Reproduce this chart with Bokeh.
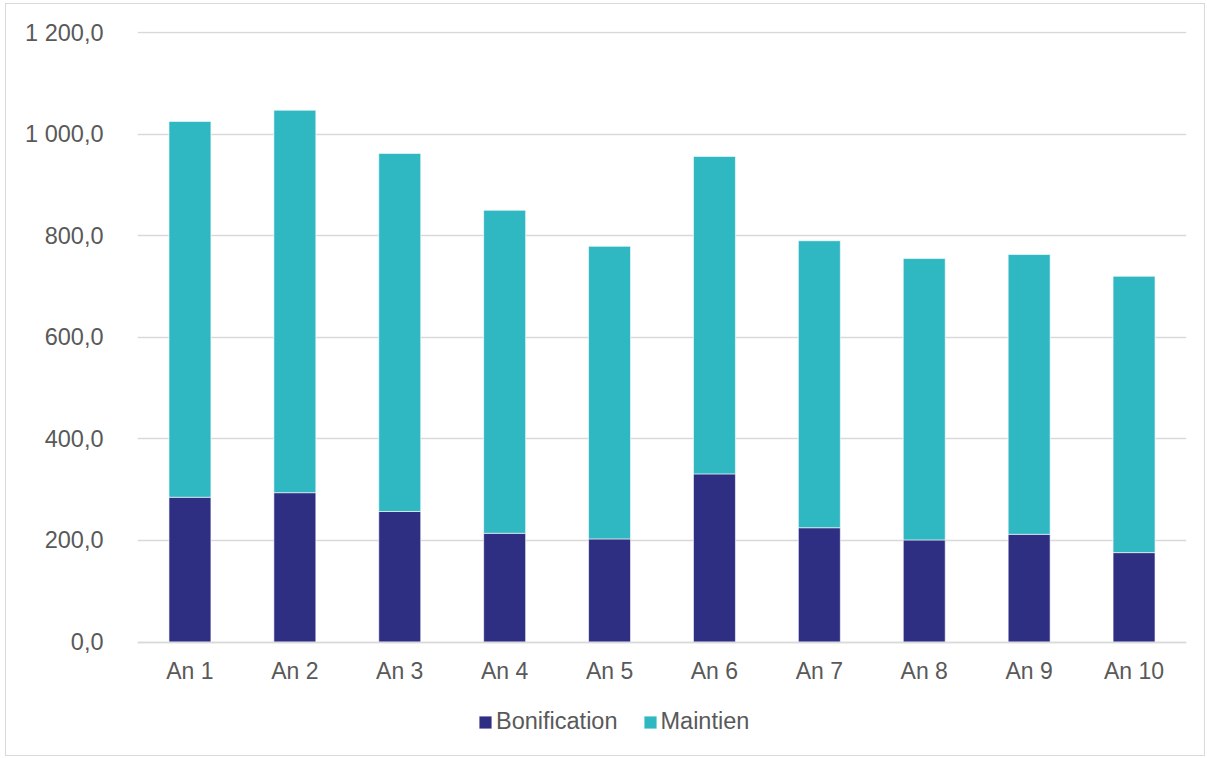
from bokeh.plotting import figure
from bokeh.models import FactorRange, Range1d, FixedTicker, Legend, LegendItem
from bokeh.embed import file_html
from bokeh.resources import INLINE

categories = ["An 1", "An 2", "An 3", "An 4", "An 5", "An 6", "An 7", "An 8", "An 9", "An 10"]
bonification = [285, 294, 257, 214, 203, 331, 225, 201, 212, 176]
maintien = [740, 753, 705, 636, 576, 625, 565, 554, 551, 544]
series_names = ["Bonification", "Maintien"]
series_colors = ["#2E2E82", "#2FB7C2"]
y_ticks = [0, 200, 400, 600, 800, 1000, 1200]
y_tick_labels = ["0,0", "200,0", "400,0", "600,0", "800,0", "1 000,0", "1 200,0"]

FONT = "Liberation Sans"
TXT = "#595959"
GRID = "#D9D9D9"

# frame extends below zero so the legend can sit inside it; the x axis is pinned at 0
p = figure(width=1200, height=753, x_range=FactorRange(*categories, range_padding=0),
           y_range=Range1d(-227.4, 1202), output_backend="svg", toolbar_location=None,
           min_border_left=131, min_border_right=20, min_border_top=27, min_border_bottom=0)
p.styles = {"border": "1px solid #D9D9D9", "margin": "3px 0 0 5px"}

data = {"cat": categories, "Bonification": bonification, "Maintien": maintien}
rs = p.vbar_stack(series_names, x="cat", width=0.4, color=series_colors, source=data,
                  line_color="white", line_alpha=0.6, line_width=1)

p.outline_line_color = None
p.background_fill_color = "white"
p.border_fill_color = "white"

p.xgrid.grid_line_color = None
p.ygrid.grid_line_color = GRID
p.ygrid.grid_line_width = 1.5
p.ygrid.ticker = FixedTicker(ticks=y_ticks)

p.yaxis.ticker = FixedTicker(ticks=y_ticks)
p.yaxis.major_label_overrides = {t: l for t, l in zip(y_ticks, y_tick_labels)}
p.yaxis.axis_line_color = None
p.yaxis.major_tick_line_color = None
p.yaxis.minor_tick_line_color = None
p.yaxis.major_tick_out = 0
p.yaxis.major_label_standoff = 34
p.yaxis.major_label_text_font = FONT
p.yaxis.major_label_text_font_size = "23.5px"
p.yaxis.major_label_text_color = TXT

p.xaxis.fixed_location = 0
p.xaxis.axis_line_color = GRID
p.xaxis.axis_line_width = 1.5
p.xaxis.major_tick_line_color = None
p.xaxis.minor_tick_line_color = None
p.xaxis.major_tick_out = 0
p.xaxis.major_label_standoff = 16
p.xaxis.major_label_text_font = FONT
p.xaxis.major_label_text_font_size = "23px"
p.xaxis.major_label_text_color = TXT

legend = Legend(items=[LegendItem(label=n, renderers=[r]) for n, r in zip(series_names, rs)],
                orientation="horizontal", location=(340, 22),
                glyph_width=16, glyph_height=16, label_standoff=3, spacing=24,
                padding=0, margin=0, border_line_color=None, background_fill_alpha=0,
                label_text_font=FONT, label_text_font_size="23.5px", label_text_color=TXT)
p.add_layout(legend, "center")

open("out.html", "w").write(file_html(p, INLINE))
